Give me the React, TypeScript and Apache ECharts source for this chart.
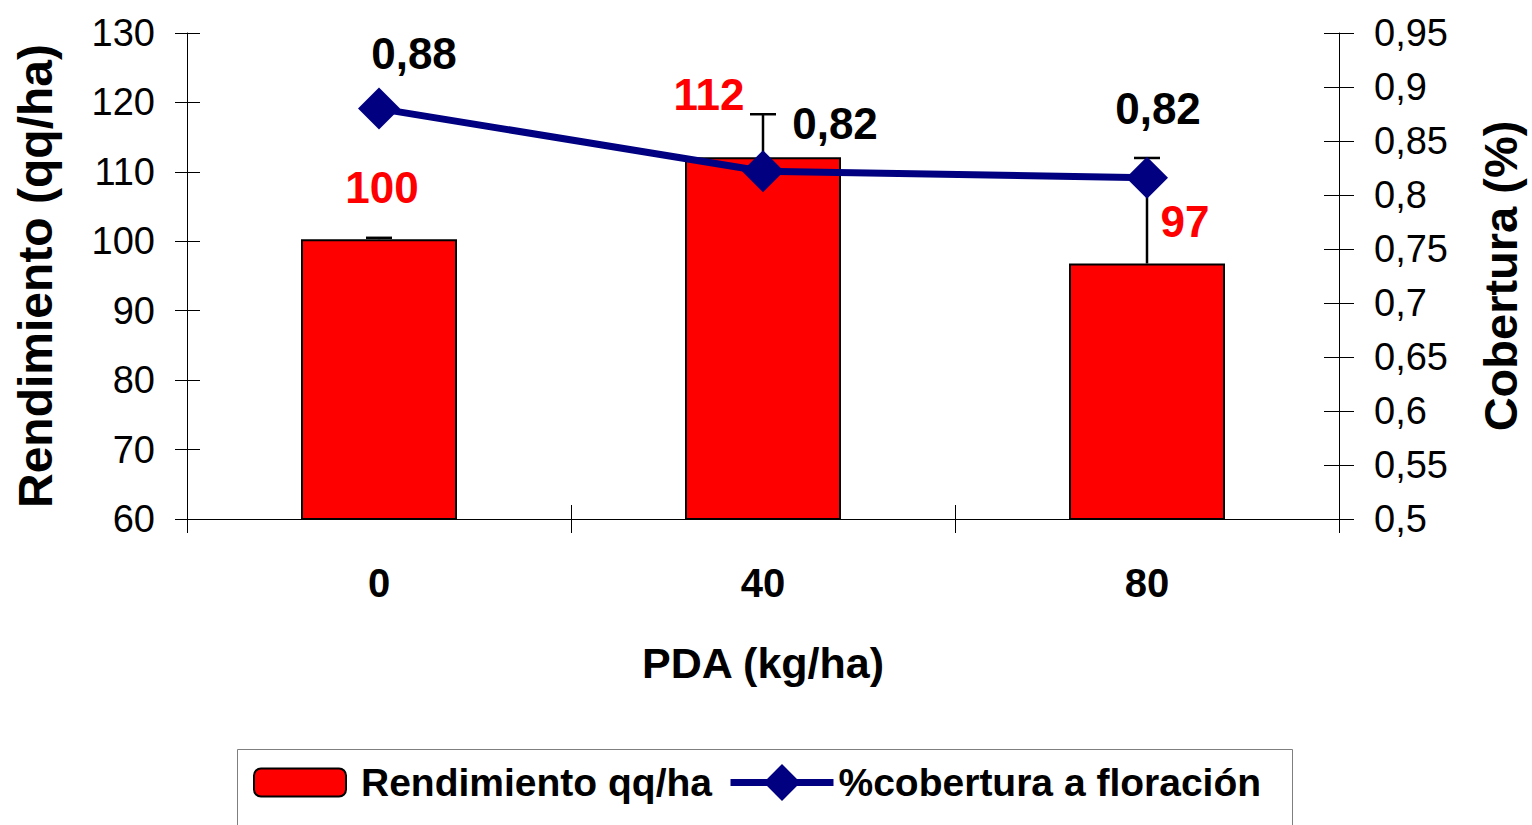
import React, { useEffect, useRef } from "react";
import * as echarts from "echarts";

const categories = ["0", "40", "80"];
const rendimiento = [100.3, 112.1, 96.8];
const rendimientoErr = [0.2, 6.2, 15.2];
const cobertura = [0.88, 0.822, 0.816];
const leftTicks = { min: 60, max: 130, interval: 10 };
const rightTicks = { min: 0.5, max: 0.95, interval: 0.05 };

const barLabelOffsets = [
  [3, -30],
  [-54, -41],
  [38, -20],
];
const lineLabelOffsets = [
  [35, -55],
  [72, -48],
  [11, -69],
];

const FONT = "'Liberation Sans', Arial, sans-serif";

export default function App() {
  const ref = useRef<HTMLDivElement>(null);
  useEffect(() => {
    if (!ref.current) return;
    const chart = echarts.init(ref.current, null, { renderer: "svg" });
    const fmtComma = (v: number) => String(+(+v).toFixed(2)).replace(".", ",");
    const legendText = {
      fontFamily: FONT,
      fontSize: 39,
      fontWeight: "bold",
      color: "#000",
    };
    const option: any = {
      animation: false,
      backgroundColor: "#fff",
      textStyle: { fontFamily: FONT },
      grid: { left: 187, right: 187, top: 33, bottom: 306, containLabel: false },
      graphic: [
        {
          type: "rect",
          left: 237,
          top: 749,
          shape: { width: 1055, height: 110 },
          style: { fill: "#fff", stroke: "#7f7f7f", lineWidth: 1 },
          z: 0,
        },
      ],
      legend: [
        {
          left: 253,
          top: 763,
          padding: 0,
          itemWidth: 92,
          itemHeight: 28,
          data: ["Rendimiento qq/ha"],
          textStyle: { ...legendText, padding: [0, 0, 0, 10] },
        },
        {
          left: 727,
          top: 763,
          padding: 0,
          itemWidth: 103,
          itemHeight: 46,
          lineStyle: { width: 7, color: "#000080" },
          data: ["%cobertura a floración"],
          textStyle: { ...legendText, padding: [0, 0, 0, 0] },
        },
      ],
      xAxis: [
        {
          type: "category",
          data: categories,
          boundaryGap: true,
          name: "PDA (kg/ha)",
          nameLocation: "middle",
          nameGap: 122,
          nameTextStyle: { fontFamily: FONT, fontSize: 43, fontWeight: "bold", color: "#000" },
          axisLine: { lineStyle: { color: "#000", width: 1 } },
          axisTick: { show: true, alignWithLabel: false, length: 14, lineStyle: { color: "#000" } },
          axisLabel: { fontFamily: FONT, fontSize: 40, fontWeight: "bold", color: "#000", margin: 44 },
          splitLine: { show: false },
        },
        {
          type: "category",
          data: categories,
          boundaryGap: true,
          position: "bottom",
          axisLine: { show: false },
          axisTick: { show: true, inside: true, length: 14, lineStyle: { color: "#000" } },
          axisLabel: { show: false },
          splitLine: { show: false },
        },
      ],
      yAxis: [
        {
          type: "value",
          position: "left",
          ...leftTicks,
          name: "Rendimiento (qq/ha)",
          nameLocation: "middle",
          nameRotate: 90,
          nameGap: 128,
          nameTextStyle: { fontFamily: FONT, fontSize: 48, fontWeight: "bold", color: "#000" },
          axisLine: { show: true, lineStyle: { color: "#000", width: 1 } },
          axisTick: { show: true, length: 12, lineStyle: { color: "#000" } },
          axisLabel: { fontFamily: FONT, fontSize: 38, color: "#000", margin: 32 },
          splitLine: { show: false },
        },
        {
          type: "value",
          position: "right",
          ...rightTicks,
          name: "Cobertura (%)",
          nameLocation: "middle",
          nameRotate: 90,
          nameGap: 138,
          nameTextStyle: { fontFamily: FONT, fontSize: 47, fontWeight: "bold", color: "#000" },
          axisLine: { show: true, lineStyle: { color: "#000", width: 1 } },
          axisTick: { show: true, length: 15, lineStyle: { color: "#000" } },
          axisLabel: {
            fontFamily: FONT,
            fontSize: 38,
            color: "#000",
            margin: 35,
            formatter: (v: number) => fmtComma(v),
          },
          splitLine: { show: false },
        },
        {
          type: "value",
          position: "left",
          ...leftTicks,
          axisLine: { show: false },
          axisTick: { show: true, inside: true, length: 13, lineStyle: { color: "#000" } },
          axisLabel: { show: false },
          splitLine: { show: false },
        },
        {
          type: "value",
          position: "right",
          ...rightTicks,
          axisLine: { show: false },
          axisTick: { show: true, inside: true, length: 15, lineStyle: { color: "#000" } },
          axisLabel: { show: false },
          splitLine: { show: false },
        },
      ],
      series: [
        {
          name: "Rendimiento qq/ha",
          type: "bar",
          xAxisIndex: 0,
          yAxisIndex: 0,
          barWidth: 156,
          z: 2,
          itemStyle: { color: "#ff0000", borderColor: "#000", borderWidth: 2 },
          data: rendimiento.map((v, i) => ({
            value: v,
            label: { offset: barLabelOffsets[i] },
          })),
          label: {
            show: true,
            position: "top",
            distance: 0,
            fontFamily: FONT,
            fontSize: 44,
            fontWeight: "bold",
            color: "#ff0000",
            formatter: (p: any) => String(Math.round(p.value)),
          },
        },
        {
          name: "error",
          type: "custom",
          xAxisIndex: 0,
          yAxisIndex: 0,
          z: 3,
          data: rendimiento.map((v, i) => [i, v, v + rendimientoErr[i]]),
          encode: { x: 0, y: [1, 2] },
          renderItem: (params: any, api: any) => {
            const i = api.value(0);
            const lo = api.coord([i, api.value(1)]);
            const hi = api.coord([i, api.value(2)]);
            const half = 13;
            const style = { stroke: "#000", lineWidth: 2.5 };
            return {
              type: "group",
              children: [
                { type: "line", shape: { x1: lo[0], y1: lo[1], x2: hi[0], y2: hi[1] }, style },
                { type: "line", shape: { x1: hi[0] - half, y1: hi[1], x2: hi[0] + half, y2: hi[1] }, style },
              ],
            };
          },
        },
        {
          name: "%cobertura a floración",
          type: "line",
          xAxisIndex: 0,
          yAxisIndex: 1,
          z: 5,
          symbol: "diamond",
          symbolSize: 42,
          lineStyle: { color: "#000080", width: 7 },
          itemStyle: { color: "#000080" },
          data: cobertura.map((v, i) => ({
            value: v,
            label: { offset: lineLabelOffsets[i] },
          })),
          label: {
            show: true,
            position: "inside",
            fontFamily: FONT,
            fontSize: 44,
            fontWeight: "bold",
            color: "#000",
            formatter: (p: any) => (+p.value).toFixed(2).replace(".", ","),
          },
        },
      ],
    };
    chart.setOption(option);
    return () => chart.dispose();
  }, []);
  return (
    <div
      ref={ref}
      style={{ position: "fixed", left: 0, top: 0, width: 1532, height: 825, background: "#fff" }}
    />
  );
}
